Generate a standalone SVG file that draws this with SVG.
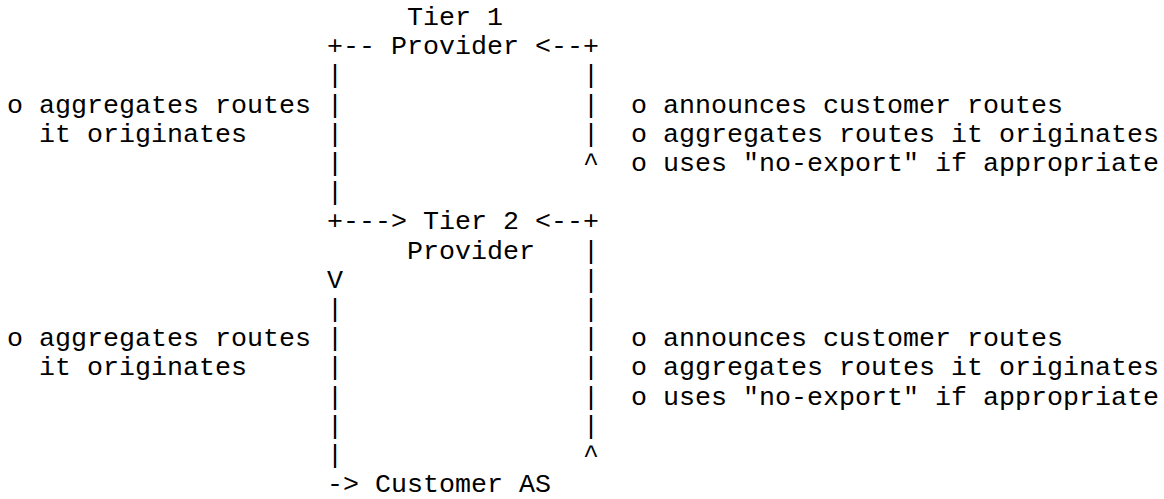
<svg xmlns="http://www.w3.org/2000/svg" width="1164" height="499" viewBox="0 0 1164 499">
<style>
text{font-family:"Liberation Mono","Courier New",monospace;font-size:26.667px;fill:#000;white-space:pre}
</style>
<rect width="1164" height="499" fill="#fff"/>
<g id="connectors">
<text x="327" y="54.2">+--</text>
<text x="535" y="54.2">&lt;--+</text>
<text x="327" y="83.4">|</text><text x="583" y="83.4">|</text>
<text x="327" y="112.6">|</text><text x="583" y="112.6">|</text>
<text x="327" y="141.8">|</text><text x="583" y="141.8">|</text>
<text x="327" y="171">|</text><text x="583" y="171">^</text>
<text x="327" y="200.2">|</text>
<text x="327" y="229.4">+---&gt;</text>
<text x="535" y="229.4">&lt;--+</text>
<text x="583" y="258.6">|</text>
<text x="327" y="287.8">V</text><text x="583" y="287.8">|</text>
<text x="327" y="317">|</text><text x="583" y="317">|</text>
<text x="327" y="346.2">|</text><text x="583" y="346.2">|</text>
<text x="327" y="375.4">|</text><text x="583" y="375.4">|</text>
<text x="327" y="404.6">|</text><text x="583" y="404.6">|</text>
<text x="327" y="433.8">|</text><text x="583" y="433.8">|</text>
<text x="327" y="463">|</text><text x="583" y="463">^</text>
<text x="327" y="492.2">-&gt;</text>
</g>
<g id="node-tier1">
<text x="407" y="25">Tier 1</text>
<text x="391" y="54.2">Provider</text>
</g>
<g id="node-tier2">
<text x="423" y="229.4">Tier 2</text>
<text x="407" y="258.6">Provider</text>
</g>
<g id="node-customer">
<text x="375" y="492.2">Customer AS</text>
</g>
<g id="notes-tier1-left">
<text x="7" y="112.6">o aggregates routes</text>
<text x="39" y="141.8">it originates</text>
</g>
<g id="notes-tier1-right">
<text x="631" y="112.6">o announces customer routes</text>
<text x="631" y="141.8">o aggregates routes it originates</text>
<text x="631" y="171">o uses "no-export" if appropriate</text>
</g>
<g id="notes-tier2-left">
<text x="7" y="346.2">o aggregates routes</text>
<text x="39" y="375.4">it originates</text>
</g>
<g id="notes-tier2-right">
<text x="631" y="346.2">o announces customer routes</text>
<text x="631" y="375.4">o aggregates routes it originates</text>
<text x="631" y="404.6">o uses "no-export" if appropriate</text>
</g>
</svg>
